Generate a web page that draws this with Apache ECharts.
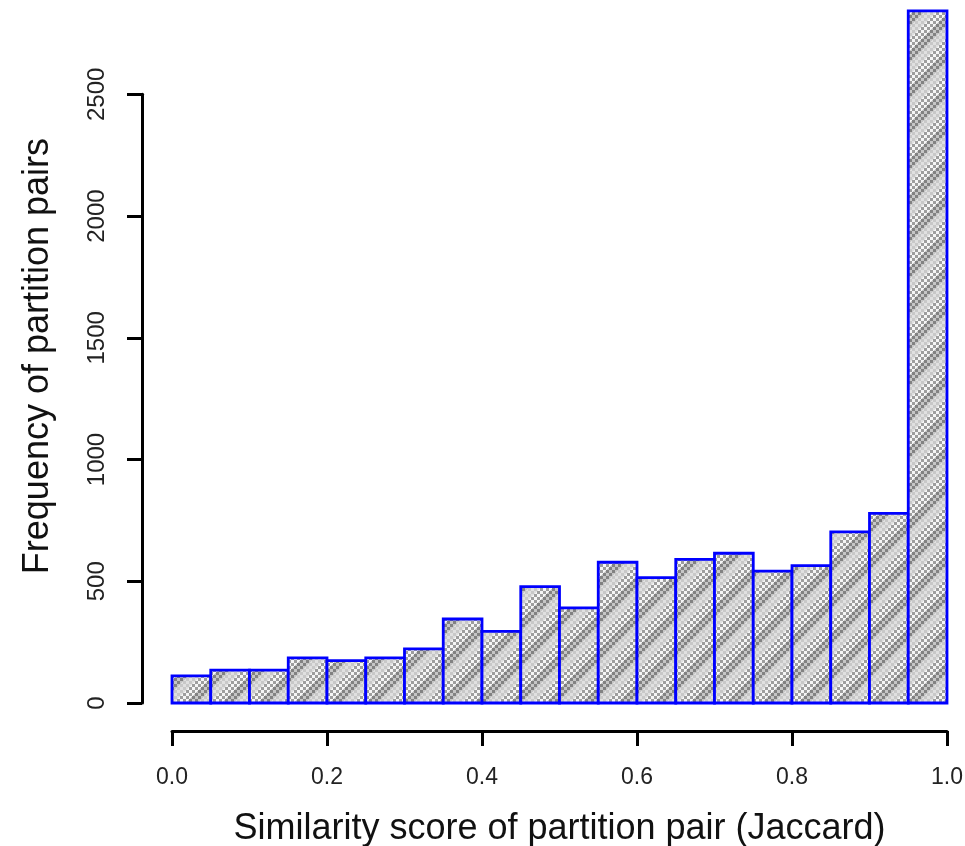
<!DOCTYPE html>
<html>
<head>
<meta charset="utf-8">
<script src="https://cdn.jsdelivr.net/npm/echarts@6/dist/echarts.min.js"></script>
<style>
html,body{margin:0;padding:0;background:#fff;}
#chart{width:965px;height:846px;}
</style>
</head>
<body>
<div id="chart"></div>
<script>
// Histogram bins (Jaccard similarity) and frequencies
var binStart = [0.00,0.05,0.10,0.15,0.20,0.25,0.30,0.35,0.40,0.45,0.50,0.55,0.60,0.65,0.70,0.75,0.80,0.85,0.90,0.95];
var binEnd   = [0.05,0.10,0.15,0.20,0.25,0.30,0.35,0.40,0.45,0.50,0.55,0.60,0.65,0.70,0.75,0.80,0.85,0.90,0.95,1.00];
var counts   = [111,135,135,185,174,185,222,345,294,478,391,578,515,590,615,542,564,703,779,2843];
var xTicks = [0.0,0.2,0.4,0.6,0.8,1.0];
var yTicks = [0,500,1000,1500,2000,2500];
var xTitle = 'Similarity score of partition pair (Jaccard)';
var yTitle = 'Frequency of partition pairs';

// layout
var plotBottom = 703;       // pixel y of count 0
var xAxisY = 731;           // pixel y of the detached x axis
var yAxisTopPx = 94.3;      // pixel y of 2500
var yAxisMax = 2500;
var plotMax = 2850;
var scale = (plotBottom - yAxisTopPx) / yAxisMax;
var top0 = plotBottom - plotMax * scale;

// hatched grey fill pattern
function makePattern(){
  var n = 36;
  var c = document.createElement('canvas');
  c.width = n; c.height = n;
  var ctx = c.getContext('2d');
  for (var y = 0; y < n; y++) {
    for (var x = 0; x < n; x++) {
      var chk = (Math.floor(x/3) + Math.floor(y/3)) % 2;
      var ph = (x + y) % n;
      var col;
      if (ph < 12) col = chk ? '#e0e0e0' : '#c8c8c8';
      else if (ph < 24) col = chk ? '#f6f6f6' : '#9e9e9e';
      else col = chk ? '#c6c6c6' : '#828282';
      ctx.fillStyle = col;
      ctx.fillRect(x, y, 1, 1);
    }
  }
  return c;
}
var pattern = {image: makePattern(), repeat: 'repeat'};

var data = binStart.map(function(s, i){ return [s, binEnd[i], counts[i]]; });

var font = 'Liberation Sans, Arial, sans-serif';
var chart = echarts.init(document.getElementById('chart'), null, {renderer: 'canvas'});
chart.setOption({
  animation: false,
  backgroundColor: '#ffffff',
  grid: [
    {left: 172, right: 18, top: top0, bottom: 846 - plotBottom, outerBoundsMode: 'none', containLabel: false},
    {left: 142, right: 18, top: yAxisTopPx, bottom: 846 - plotBottom, outerBoundsMode: 'none', containLabel: false},
    {left: 172, right: 18, top: top0, bottom: 846 - xAxisY, outerBoundsMode: 'none', containLabel: false}
  ],
  xAxis: [
    {gridIndex: 0, type: 'value', min: 0, max: 1, show: false},
    {gridIndex: 1, type: 'value', min: 0, max: 1, show: false},
    {
      gridIndex: 2, type: 'value', min: 0, max: 1, interval: 0.2,
      position: 'bottom',
      axisLine: {show: true, lineStyle: {color: '#000', width: 3}},
      axisTick: {show: true, length: 15, lineStyle: {color: '#000', width: 3}},
      axisLabel: {show: true, margin: 35, fontSize: 23, fontFamily: font, color: '#222',
        formatter: function(v){ return v.toFixed(1); }},
      splitLine: {show: false},
      name: xTitle, nameLocation: 'middle', nameGap: 80, nameMoveOverlap: false,
      nameTextStyle: {fontSize: 36, fontFamily: font, color: '#111'}
    }
  ],
  yAxis: [
    {
      gridIndex: 0, type: 'value', min: 0, max: plotMax,
      offset: 30,
      axisLine: {show: false}, axisTick: {show: false}, axisLabel: {show: false},
      splitLine: {show: false},
      name: yTitle, nameLocation: 'middle', nameGap: 86, nameRotate: 90, nameMoveOverlap: false,
      nameTextStyle: {fontSize: 36, fontFamily: font, color: '#111'}
    },
    {
      gridIndex: 1, type: 'value', min: 0, max: yAxisMax, interval: 500,
      axisLine: {show: true, lineStyle: {color: '#000', width: 3}},
      axisTick: {show: true, length: 15, lineStyle: {color: '#000', width: 3}},
      axisLabel: {show: true, rotate: 90, margin: 33, fontSize: 24, fontFamily: font, color: '#222',
        formatter: function(v){ return String(v); }},
      splitLine: {show: false}
    },
    {gridIndex: 2, type: 'value', min: 0, max: plotMax, show: false}
  ],
  series: [{
    type: 'custom',
    xAxisIndex: 0, yAxisIndex: 0,
    data: data,
    clip: false,
    renderItem: function(params, api){
      var p0 = api.coord([api.value(0), 0]);
      var p1 = api.coord([api.value(1), api.value(2)]);
      return {
        type: 'rect',
        shape: {x: p0[0], y: p1[1], width: p1[0] - p0[0], height: p0[1] - p1[1]},
        style: {fill: pattern, stroke: '#0000ff', lineWidth: 2.8}
      };
    }
  }]
});
</script>
</body>
</html>
